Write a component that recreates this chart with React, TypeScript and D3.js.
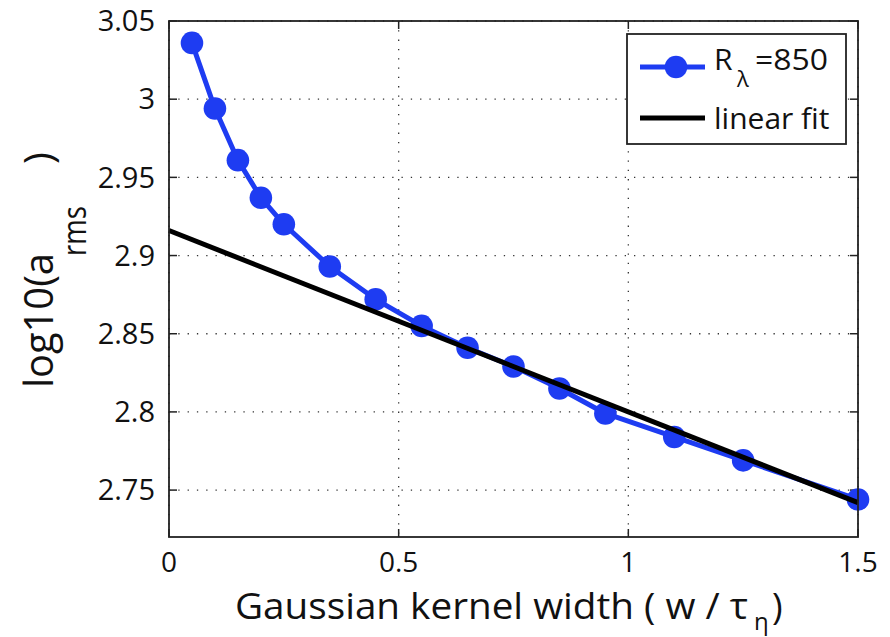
import React from "react";
import * as d3 from "d3";

// Data
const kernelWidth = [0.05, 0.1, 0.15, 0.2, 0.25, 0.35, 0.45, 0.55, 0.65, 0.75, 0.85, 0.95, 1.1, 1.25, 1.5];
const logArms = [3.036, 2.994, 2.961, 2.937, 2.92, 2.893, 2.872, 2.855, 2.841, 2.829, 2.815, 2.799, 2.784, 2.769, 2.744];
const fitX = [0, 1.5];
const fitY = [2.916, 2.742];
const xTicks = [0, 0.5, 1, 1.5];
const yTicks = [2.75, 2.8, 2.85, 2.9, 2.95, 3, 3.05];
const xDomain = [0, 1.5];
const yDomain = [2.72, 3.05];

const W = 890;
const H = 637;
const M = { left: 169, right: 858, top: 21, bottom: 537 };
const FONT = "'Open Sans', 'Liberation Sans', sans-serif";
const BLUE = "#1e3cf2";

export default function App() {
  const x = d3.scaleLinear().domain(xDomain).range([M.left, M.right]);
  const y = d3.scaleLinear().domain(yDomain).range([M.bottom, M.top]);
  const pts = kernelWidth.map((w, i) => [w, logArms[i]] as [number, number]);
  const fit = fitX.map((w, i) => [w, fitY[i]] as [number, number]);
  const line = d3
    .line<[number, number]>()
    .x((d) => x(d[0]))
    .y((d) => y(d[1]));
  const tickLen = 8;

  return (
    <svg
      width={W}
      height={H}
      style={{ position: "absolute", left: 0, top: 0, background: "#fff" }}
      fontFamily={FONT}
    >
      <rect x={0} y={0} width={W} height={H} fill="#fff" />
      {/* grid */}
      {xTicks.map((t) => (
        <line
          key={"gx" + t}
          x1={x(t)}
          x2={x(t)}
          y1={M.top}
          y2={M.bottom}
          stroke="#333"
          strokeWidth={1.3}
          strokeDasharray="1.3,8"
        />
      ))}
      {yTicks.map((t) => (
        <line
          key={"gy" + t}
          x1={M.left}
          x2={M.right}
          y1={y(t)}
          y2={y(t)}
          stroke="#333"
          strokeWidth={1.3}
          strokeDasharray="1.3,8"
        />
      ))}
      {/* ticks */}
      {xTicks.map((t) => (
        <g key={"tx" + t} stroke="#222" strokeWidth={1.5}>
          <line x1={x(t)} x2={x(t)} y1={M.bottom} y2={M.bottom - tickLen} />
          <line x1={x(t)} x2={x(t)} y1={M.top} y2={M.top + tickLen} />
        </g>
      ))}
      {yTicks.map((t) => (
        <g key={"ty" + t} stroke="#222" strokeWidth={1.5}>
          <line x1={M.left} x2={M.left + tickLen} y1={y(t)} y2={y(t)} />
          <line x1={M.right} x2={M.right - tickLen} y1={y(t)} y2={y(t)} />
        </g>
      ))}
      {/* data */}
      <path d={line(pts) || ""} fill="none" stroke={BLUE} strokeWidth={5} strokeLinejoin="round" />
      {pts.map((p, i) => (
        <circle key={"c" + i} cx={x(p[0])} cy={y(p[1])} r={11.3} fill={BLUE} />
      ))}
      <path d={line(fit) || ""} fill="none" stroke="#000" strokeWidth={5} />
      {/* frame */}
      <rect
        x={M.left}
        y={M.top}
        width={M.right - M.left}
        height={M.bottom - M.top}
        fill="none"
        stroke="#222"
        strokeWidth={1.8}
      />
      {/* tick labels */}
      {xTicks.map((t) => (
        <text key={"lx" + t} x={x(t)} y={572} textAnchor="middle" fontSize={28} fill="#111">
          {String(t)}
        </text>
      ))}
      {yTicks.map((t) => (
        <text
          key={"ly" + t}
          x={155}
          y={y(t)}
          dy="0.35em"
          textAnchor="end"
          fontSize={29}
          fill="#111"
        >
          {String(t)}
        </text>
      ))}
      {/* x axis title */}
      <g fill="#111">
        <text x={235} y={619} fontSize={36} textLength={513} lengthAdjust="spacingAndGlyphs">
          Gaussian kernel width ( w / τ
        </text>
        <text x={754} y={630} fontSize={24}>
          η
        </text>
        <text x={772} y={619} fontSize={36}>
          )
        </text>
      </g>
      {/* y axis title */}
      <g fill="#111">
        <text
          transform="translate(53, 388) rotate(-90)"
          fontSize={40}
          textLength={135}
          lengthAdjust="spacingAndGlyphs"
        >
          log10(a
        </text>
        <text
          transform="translate(86, 256) rotate(-90)"
          fontSize={32}
          textLength={50}
          lengthAdjust="spacingAndGlyphs"
        >
          rms
        </text>
        <text transform="translate(53, 164) rotate(-90)" fontSize={40}>
          )
        </text>
      </g>
      {/* legend */}
      <g>
        <rect x={627} y={34} width={219} height={110} fill="#fff" stroke="#222" strokeWidth={1.8} />
        <line x1={640} x2={705} y1={67} y2={67} stroke={BLUE} strokeWidth={5} />
        <circle cx={676} cy={67} r={11.3} fill={BLUE} />
        <text x={714} y={70} fontSize={30} fill="#111">
          R
        </text>
        <text x={737} y={87} fontSize={22} fill="#111">
          λ
        </text>
        <text x={755} y={70} fontSize={30} fill="#111" textLength={73} lengthAdjust="spacingAndGlyphs">
          =850
        </text>
        <line x1={640} x2={705} y1={118} y2={118} stroke="#000" strokeWidth={5} />
        <text x={714} y={129} fontSize={30} fill="#111">
          linear fit
        </text>
      </g>
    </svg>
  );
}
